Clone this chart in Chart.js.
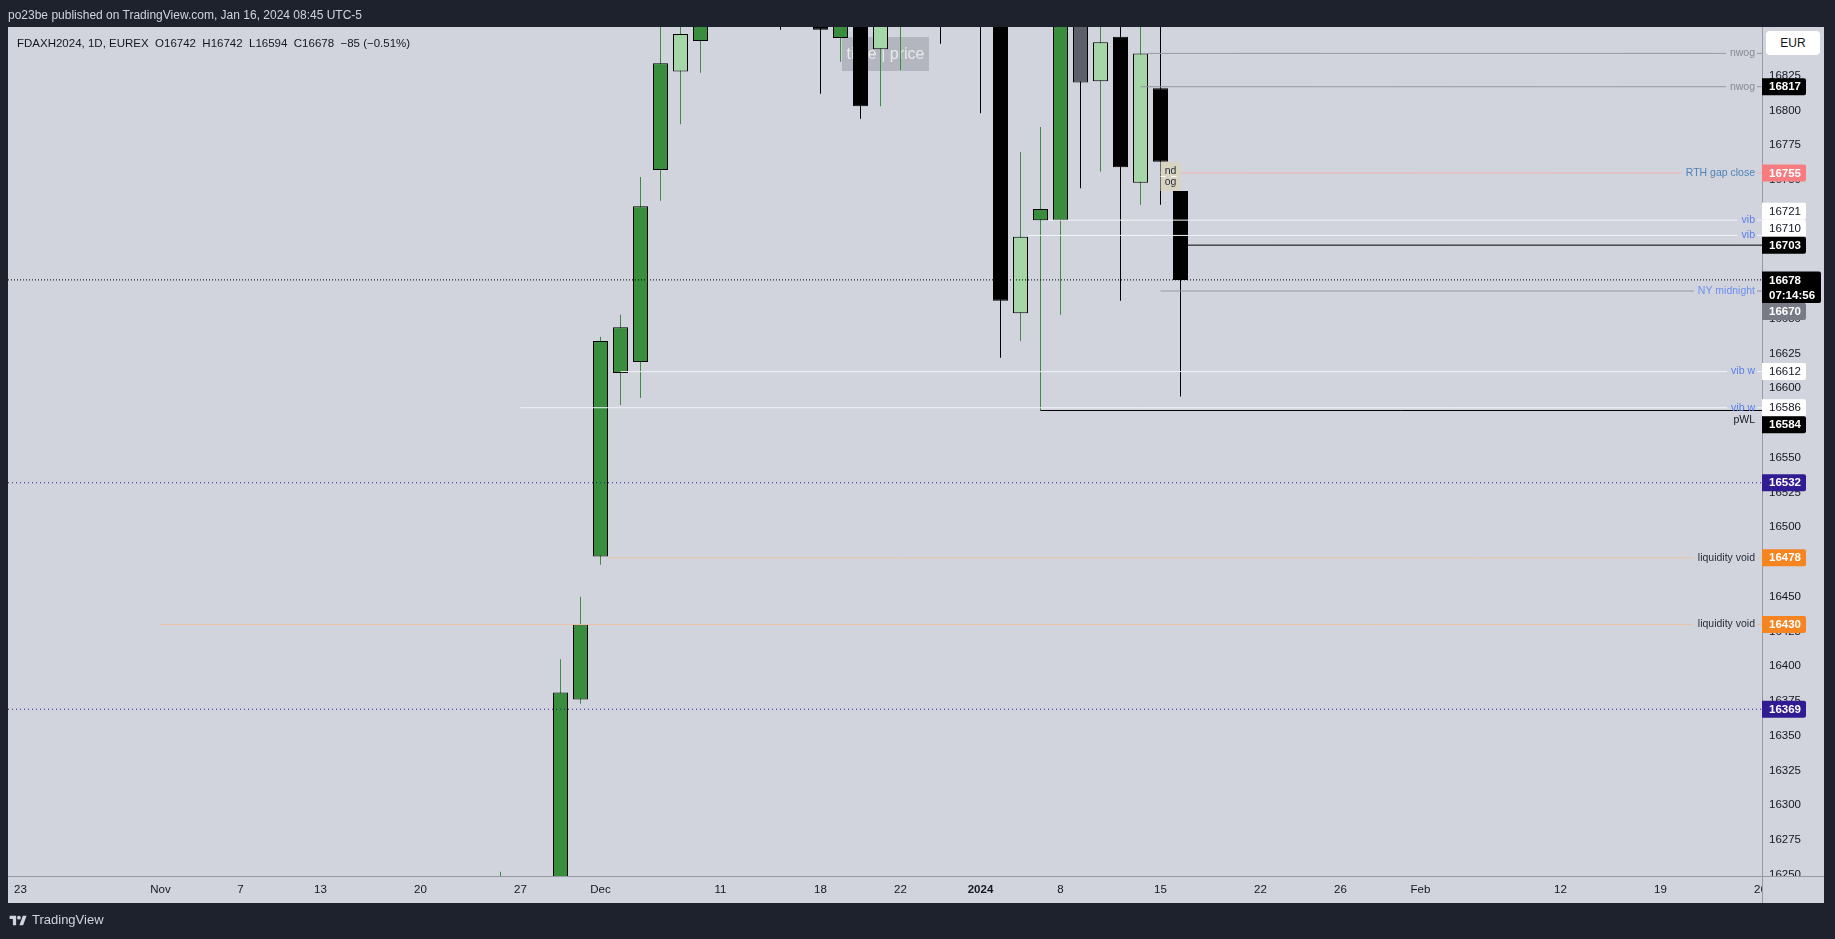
<!DOCTYPE html>
<html>
<head>
<meta charset="utf-8">
<script src="https://cdn.jsdelivr.net/npm/chart.js@4.4.1/dist/chart.umd.min.js"></script>
<style>
  html, body { margin: 0; padding: 0; background: #1e222d; }
  body { width: 1835px; height: 939px; position: relative; overflow: hidden;
         font-family: "Liberation Sans", Arial, sans-serif; }
  #chart { position: absolute; left: 0; top: 0; }
  #published { position: absolute; left: 8px; top: 7px; font-size: 12px; line-height: 16px; color: #d1d4dc; }
  #legend { position: absolute; left: 17px; top: 35px; font-size: 11.5px; line-height: 16px; color: #131722; white-space: pre; }
  #currency { position: absolute; left: 1766px; top: 31px; width: 54px; height: 24px; line-height: 24px;
              background: #fff; border-radius: 4px; text-align: center; font-size: 12px; color: #131722; }
  #brand { position: absolute; left: 9px; top: 912px; font-size: 13px; line-height: 16px; color: #d1d4dc;
           display: flex; align-items: center; gap: 5px; }
</style>
</head>
<body>
<canvas id="chart" width="1835" height="939"></canvas>
<div id="published">po23be published on TradingView.com, Jan 16, 2024 08:45 UTC-5</div>
<div id="legend"></div>
<div id="currency">EUR</div>
<div id="brand"><svg width="18" height="13" viewBox="0 0 36 28"><path d="M14 24H7V11H0V4h14v20zM29 24h-8l7.5-20h8L29 24z" fill="#d1d4dc"/><circle cx="20" cy="8" r="4" fill="#d1d4dc"/></svg>TradingView</div>
<script>
// trading calendar (Eurex daily sessions)
const firstSession = '2023-10-23';
const lastSession = '2024-02-26';
const holidays = ['2023-12-25', '2023-12-26', '2024-01-01'];

// daily candles that show in the window
const candleDates = ['2023-11-24', '2023-11-29', '2023-11-30', '2023-12-01', '2023-12-04', '2023-12-05', '2023-12-06',
  '2023-12-07', '2023-12-08', '2023-12-14', '2023-12-18', '2023-12-19', '2023-12-20', '2023-12-21', '2023-12-22',
  '2023-12-28', '2024-01-02', '2024-01-03', '2024-01-04', '2024-01-05', '2024-01-08', '2024-01-09', '2024-01-10',
  '2024-01-11', '2024-01-12', '2024-01-15', '2024-01-16'];
const opens  = [16180, 16200, 16376, 16479, 16611, 16619, 16757, 16828, 16850, 16990, 16895, 16852, 16900, 16844, 16880,
  16910, 16935, 16878, 16654, 16721, 16721, 16885, 16821, 16853, 16748, 16816, 16742];
const highs  = [16252, 16405, 16450, 16637, 16653, 16752, 16885, 16890, 16935, 17010, 16925, 16905, 16925, 16900, 16915,
  16935, 16955, 16890, 16770, 16788, 16890, 16895, 16880, 16872, 16870, 16868, 16742];
const lows   = [16170, 16190, 16373, 16473, 16588, 16593, 16735, 16790, 16827, 16858, 16812, 16835, 16794, 16803, 16829,
  16848, 16798, 16622, 16634, 16584, 16653, 16744, 16756, 16663, 16732, 16732, 16594];
const closes = [16240, 16381, 16430, 16634, 16644, 16731, 16834, 16855, 16905, 16930, 16858, 16890, 16803, 16880, 16895,
  16875, 16880, 16663, 16709, 16729, 16878, 16820, 16849, 16759, 16841, 16763, 16678];
// strong (dark) or weak (pale) candle as coloured on the chart
const heavyVolume = [1, 1, 1, 1, 1, 1, 1, 0, 1, 1, 1, 1, 1, 0, 1, 1, 1, 1, 0, 1, 1, 0, 0, 1, 0, 1, 1];

// time axis
const tickDates = ['2023-10-23', '2023-11-01', '2023-11-07', '2023-11-13', '2023-11-20', '2023-11-27', '2023-12-01',
  '2023-12-11', '2023-12-18', '2023-12-22', '2024-01-02', '2024-01-08', '2024-01-15', '2024-01-22', '2024-01-26',
  '2024-02-01', '2024-02-12', '2024-02-19', '2024-02-26'];
const tickLabels = ['23', 'Nov', '7', '13', '20', '27', 'Dec', '11', '18', '22', '2024', '8', '15', '22', '26',
  'Feb', '12', '19', '26'];

// price axis
const priceMin = 16249;
const priceMax = 16860;
const priceStep = 25;

// horizontal levels drawn on the chart
const levelPrices = [16841, 16817, 16755, 16721, 16710, 16703, 16678, 16670, 16612, 16586, 16584, 16532, 16478, 16430, 16369];
const levelFrom = ['2024-01-12', '2024-01-12', '2024-01-15', '2024-01-05', '2024-01-04', '2024-01-16', null,
  '2024-01-15', '2023-12-04', '2023-11-27', '2024-01-05', null, '2023-12-01', '2023-11-01', null];
const levelAfterBar = [1, 0, 0, 1, 1, 1, 0, 0, 0, 0, 0, 0, 1, 0, 0];
const levelKinds = ['nwog', 'nwog', 'rth', 'vib', 'vib', 'mark', 'last', 'midnight', 'vib', 'vib', 'pwl', 'weekly',
  'void', 'void', 'weekly'];
const levelTexts = ['nwog', 'nwog', 'RTH gap close', 'vib', 'vib', '', '', 'NY midnight', 'vib w', 'vib w', 'pWL', '',
  'liquidity void', 'liquidity void', ''];
const levelOnAxis = [0, 1, 1, 1, 1, 1, 1, 1, 1, 1, 1, 1, 1, 1, 1];

// new day opening gap box between these two sessions
const gapFrom = '2024-01-15';
const gapTo = '2024-01-16';
const gapText = ['nd', 'og'];

const watermark = 'time | price';
const countdown = '07:14:56';

const sessions = [];
for (let d = new Date(firstSession + 'T12:00:00Z'); d <= new Date(lastSession + 'T12:00:00Z'); d.setUTCDate(d.getUTCDate() + 1)) {
  const iso = d.toISOString().slice(0, 10);
  if (d.getUTCDay() !== 0 && d.getUTCDay() !== 6 && !holidays.includes(iso)) sessions.push(iso);
}
const bar = date => sessions.indexOf(date);

const viewFrom = -0.625;
const viewTo = 87.075;
const chartBg = '#d1d4dc';
const axisFont = '"Liberation Sans", Arial, sans-serif';

const styles = {
  nwog:     { line: '#9598a1', text: '#868993', box: '#000000', boxText: '#ffffff' },
  rth:      { line: '#efb1b3', text: '#4f83b9', box: '#f77c80', boxText: '#ffffff' },
  vib:      { line: '#f0f3fa', text: '#5b7ff0', box: '#ffffff', boxText: '#131722' },
  mark:     { line: '#000000', box: '#000000', boxText: '#ffffff' },
  last:     { line: '#000000', dash: [1, 2], box: '#000000', boxText: '#ffffff' },
  midnight: { line: '#9598a1', text: '#6f8ff2', box: '#787b86', boxText: '#ffffff' },
  pwl:      { line: '#000000', text: '#131722', box: '#000000', boxText: '#ffffff', below: true },
  weekly:   { line: '#311b92', dash: [1, 3], box: '#311b92', boxText: '#ffffff' },
  void:     { line: '#e9c2a5', text: '#2a2e39', box: '#f68421', boxText: '#ffffff' }
};

const n = closes.length - 1;
const change = closes[n] - closes[n - 1];
const pct = change / closes[n - 1] * 100;
const sign = v => (v < 0 ? '\u2212' : '+');
document.querySelector('#legend').textContent = 'FDAXH2024, 1D, EUREX  O' + opens[n] + '  H' + highs[n] + '  L' + lows[n] +
  '  C' + closes[n] + '  ' + sign(change) + Math.abs(change) + ' (' + sign(pct) + Math.abs(pct).toFixed(2) + '%)';

const barIdx = candleDates.map(bar);
const bull = closes.map((c, i) => c >= opens[i]);
const bodyColor = bull.map((b, i) => b ? (heavyVolume[i] ? '#388e3c' : '#a5d6a7') : (heavyVolume[i] ? '#000000' : '#5d606b'));
const wickColor = bull.map(b => b ? '#388e3c' : '#000000');

const levelSets = levelPrices.map((p, i) => {
  const st = styles[levelKinds[i]];
  const start = levelFrom[i] ? bar(levelFrom[i]) + (levelAfterBar[i] ? 0.375 : 0) : viewFrom;
  return {
    type: 'line',
    data: [{x: start, y: p}, {x: viewTo, y: p}],
    borderColor: st.line,
    borderWidth: 1,
    borderDash: st.dash || [],
    pointRadius: 0,
    order: 1
  };
});

const tvPlugin = {
  id: 'tv',
  beforeDraw(chart) {
    const ctx = chart.ctx;
    ctx.save();
    ctx.fillStyle = '#1e222d';
    ctx.fillRect(0, 0, chart.width, chart.height);
    ctx.fillStyle = chartBg;
    ctx.fillRect(8, 27, 1816, 876);
    ctx.restore();
  },
  beforeDatasetsDraw(chart) {
    const ctx = chart.ctx;
    ctx.save();
    ctx.fillStyle = '#b3b6be';
    ctx.fillRect(842, 37, 87, 34);
    ctx.fillStyle = '#e8e9ed';
    ctx.font = '16px ' + axisFont;
    ctx.textAlign = 'center';
    ctx.textBaseline = 'middle';
    ctx.fillText(watermark, 885.5, 54.5);
    ctx.restore();
  },
  afterDatasetsDraw(chart) {
    const ctx = chart.ctx;
    const xs = chart.scales.x, ys = chart.scales.y;
    ctx.save();
    // opening gap box
    const gx0 = xs.getPixelForValue(bar(gapFrom)), gx1 = xs.getPixelForValue(bar(gapTo));
    const gTop = ys.getPixelForValue(closes[candleDates.indexOf(gapFrom)]);
    const gBot = ys.getPixelForValue(opens[candleDates.indexOf(gapTo)]);
    ctx.fillStyle = '#d7d5c2';
    ctx.fillRect(gx0, gTop, gx1 - gx0, gBot - gTop);
    ctx.strokeStyle = '#ffffff';
    ctx.setLineDash([5, 6]);
    ctx.beginPath();
    ctx.moveTo(gx0, Math.round((gTop + gBot) / 2) + 0.5);
    ctx.lineTo(gx1, Math.round((gTop + gBot) / 2) + 0.5);
    ctx.stroke();
    ctx.setLineDash([]);
    ctx.fillStyle = '#2a2e39';
    ctx.font = '10.5px ' + axisFont;
    ctx.textAlign = 'center';
    ctx.textBaseline = 'middle';
    ctx.fillText(gapText[0], (gx0 + gx1) / 2, gTop + (gBot - gTop) * 0.33);
    ctx.fillText(gapText[1], (gx0 + gx1) / 2, gTop + (gBot - gTop) * 0.7);

    // level texts on the right of the lines
    const right = chart.chartArea.right - 7;
    ctx.font = '10.5px ' + axisFont;
    ctx.textAlign = 'right';
    levelPrices.forEach((p, i) => {
      const t = levelTexts[i];
      if (!t) return;
      const st = styles[levelKinds[i]];
      const y = ys.getPixelForValue(p);
      if (st.below) {
        ctx.fillStyle = st.text;
        ctx.fillText(t, right, y + 9.5);
        return;
      }
      const w = ctx.measureText(t).width;
      ctx.fillStyle = chartBg;
      ctx.fillRect(right - w - 4, y - 1.5, w + 6, 3);
      ctx.fillStyle = st.text;
      ctx.fillText(t, right, y);
    });
    ctx.restore();
  },
  afterDraw(chart) {
    const ctx = chart.ctx;
    const ys = chart.scales.y;
    const area = chart.chartArea;
    ctx.save();
    // hide tick text spilling into the corner
    ctx.fillStyle = chartBg;
    ctx.fillRect(area.right + 1, area.bottom + 1, 61, 26);
    ctx.strokeStyle = '#959aa3';
    ctx.lineWidth = 1;
    ctx.beginPath();
    ctx.moveTo(8, area.bottom + 0.5);
    ctx.lineTo(1824, area.bottom + 0.5);
    ctx.moveTo(area.right + 0.5, 27);
    ctx.lineTo(area.right + 0.5, 903);
    ctx.stroke();

    // price labels, spread out around the last price like TradingView does
    const items = [];
    levelPrices.forEach((p, i) => {
      if (!levelOnAxis[i]) return;
      const kind = levelKinds[i];
      const y = ys.getPixelForValue(p);
      items.push({p, kind, y, top: y - 8.5, bottom: y + (kind === 'last' ? 23 : 8.5)});
    });
    const lastItem = items.find(it => it.kind === 'last');
    const upper = items.filter(it => it.y <= lastItem.y).sort((a, b) => b.y - a.y);
    const lower = items.filter(it => it.y > lastItem.y).sort((a, b) => a.y - b.y);
    let prev = null;
    upper.forEach(it => {
      if (prev && it.bottom > prev.top) {
        const s = prev.top - it.bottom;
        it.y += s; it.top += s; it.bottom += s;
      }
      prev = it;
    });
    prev = lastItem;
    lower.forEach(it => {
      if (it.top < prev.bottom) {
        const s = prev.bottom - it.top;
        it.y += s; it.top += s; it.bottom += s;
      }
      prev = it;
    });
    ctx.textAlign = 'left';
    ctx.textBaseline = 'middle';
    items.forEach(it => {
      const st = styles[it.kind];
      const w = it.kind === 'last' ? 59 : 44;
      ctx.fillStyle = st.box;
      ctx.beginPath();
      ctx.roundRect(area.right, it.top, w, it.bottom - it.top, [0, 2, 2, 0]);
      ctx.fill();
      ctx.fillStyle = st.boxText;
      ctx.font = (st.box === '#ffffff' ? '' : 'bold ') + '11.5px ' + axisFont;
      ctx.fillText(String(it.p), area.right + 7, it.y + 0.5);
      if (it.kind === 'last') ctx.fillText(countdown, area.right + 7, it.y + 15.5);
    });
    ctx.restore();
  }
};

new Chart(document.querySelector('#chart'), {
  type: 'bar',
  data: {
    datasets: [
      {
        data: barIdx.map((x, i) => ({x: x, y: [lows[i], highs[i]]})),
        backgroundColor: wickColor,
        borderWidth: 0,
        barThickness: 1,
        inflateAmount: 0,
        grouped: false,
        order: 3
      },
      {
        data: barIdx.map((x, i) => ({x: x, y: [opens[i], closes[i]]})),
        backgroundColor: bodyColor,
        borderColor: '#000000',
        borderWidth: 1,
        borderSkipped: false,
        barThickness: 15,
        inflateAmount: 0,
        grouped: false,
        order: 2
      },
      ...levelSets
    ]
  },
  options: {
    responsive: false,
    animation: false,
    layout: {padding: {left: 8, top: 27, right: 11, bottom: 36}},
    plugins: {legend: {display: false}, tooltip: {enabled: false}},
    scales: {
      x: {
        type: 'linear',
        min: viewFrom,
        max: viewTo,
        offset: false,
        grid: {display: false, drawTicks: false},
        border: {display: false},
        afterBuildTicks: axis => { axis.ticks = tickDates.map(d => ({value: bar(d)})); },
        afterFit: axis => { axis.height = 27; },
        ticks: {
          autoSkip: false,
          maxRotation: 0,
          padding: 7,
          color: '#131722',
          font: c => ({family: axisFont, size: 11.5, weight: tickLabels[c.index] === '2024' ? 'bold' : 'normal'}),
          callback: (v, i) => tickLabels[i]
        }
      },
      y: {
        type: 'linear',
        position: 'right',
        min: priceMin,
        max: priceMax,
        grid: {display: false, drawTicks: false},
        border: {display: false},
        afterFit: axis => { axis.width = 62; },
        ticks: {
          stepSize: priceStep,
          includeBounds: false,
          padding: 7,
          color: '#131722',
          font: {family: axisFont, size: 11.5},
          callback: v => String(v)
        }
      }
    }
  },
  plugins: [tvPlugin]
});
</script>
</body>
</html>
